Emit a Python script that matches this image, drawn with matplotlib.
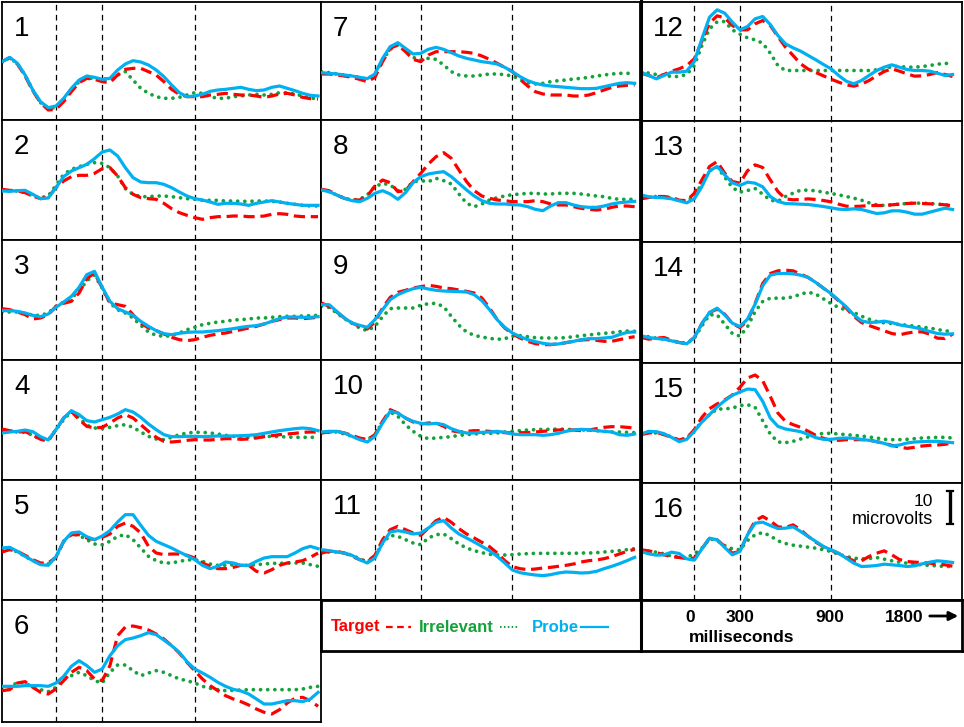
import matplotlib.pyplot as plt
import numpy as np
from matplotlib.lines import Line2D
from matplotlib.patches import FancyArrowPatch

plt.rcParams['font.family'] = ['Liberation Sans', 'DejaVu Sans']

# Zeitachse in ms, alle 50 ms ein Wert
times = np.arange(-350, 1701, 50)

# Amplituden in Mikrovolt (positiv = oben), je Panel: Target, Irrelevant, Probe
target_01 = [-0.2, 1.0, -0.9, -4.5, -9.0, -12.5, -14.7, -14.5, -12.2, -9.2, -6.5, -5.2, -5.5, -6.2, -6.5, -4.2, -2.5, -2.2, -2.2, -3.2, -4.2, -6.2, -8.5, -10.0, -10.7, -10.7, -10.7, -10.2, -10.0, -9.7, -10.0, -10.2, -10.2, -10.5, -10.9, -10.5, -9.9, -9.7, -10.2, -10.9, -11.3, -11.4]
irrelevant_01 = [-0.4, 1.0, -0.8, -4.3, -8.8, -12.5, -14.3, -13.9, -11.7, -8.7, -6.2, -5.2, -5.2, -5.5, -5.2, -4.2, -3.2, -5.7, -8.2, -9.7, -10.7, -11.2, -11.2, -10.9, -10.2, -9.5, -9.7, -10.7, -11.2, -11.2, -10.7, -10.5, -10.2, -10.0, -10.2, -10.0, -9.5, -9.5, -9.9, -10.5, -11.2, -11.2]
probe_01 = [-0.2, 1.1, -0.7, -4.2, -8.7, -12.2, -14.0, -13.5, -11.2, -8.2, -5.7, -4.5, -4.9, -5.5, -5.2, -2.7, -0.9, 0.1, -0.3, -1.2, -2.7, -4.7, -7.2, -9.5, -10.7, -10.5, -10.0, -9.1, -8.7, -8.5, -8.2, -7.9, -8.5, -8.9, -8.7, -7.9, -7.5, -8.2, -8.9, -9.7, -10.3, -10.5]

target_02 = [-2.8, -3.1, -3.3, -3.8, -4.8, -5.6, -5.1, -2.3, -0.3, 1.0, 1.4, 1.4, 2.0, 3.4, 3.7, 1.2, -2.3, -4.3, -5.3, -5.6, -5.8, -7.0, -8.6, -9.8, -10.6, -11.3, -11.8, -11.3, -11.0, -11.0, -10.8, -10.8, -11.0, -11.0, -10.8, -10.3, -10.1, -10.3, -10.8, -11.0, -11.0, -11.0]
irrelevant_02 = [-3.0, -3.3, -3.3, -3.8, -4.8, -5.3, -4.8, -1.6, 1.7, 3.2, 4.0, 4.7, 5.2, 5.0, 3.7, 1.2, -2.6, -4.3, -5.0, -5.0, -4.8, -4.8, -5.0, -5.3, -5.6, -5.8, -6.1, -6.1, -6.1, -6.3, -6.3, -6.4, -6.4, -6.3, -6.3, -6.4, -6.6, -7.0, -7.3, -7.6, -7.8, -7.8]
probe_02 = [-3.3, -3.4, -3.2, -3.1, -4.3, -5.6, -5.4, -2.3, 1.0, 2.7, 3.7, 4.7, 6.4, 8.4, 9.0, 7.2, 3.7, 0.7, -0.6, -0.8, -0.8, -1.3, -2.3, -3.6, -4.8, -5.6, -6.0, -6.6, -7.3, -7.0, -7.0, -7.2, -7.6, -7.0, -6.6, -6.2, -6.6, -7.0, -7.3, -7.6, -7.6, -7.6]

target_03 = [-2.6, -2.9, -3.6, -4.4, -5.7, -5.4, -4.4, -1.9, -1.0, -0.4, 2.1, 6.4, 8.1, 3.6, -0.9, -1.4, -1.9, -4.4, -6.9, -8.4, -9.2, -10.2, -11.2, -11.9, -12.2, -11.9, -11.2, -10.6, -10.2, -9.9, -9.4, -8.9, -8.4, -7.9, -7.2, -6.4, -5.9, -5.4, -5.4, -5.6, -5.4, -5.2]
irrelevant_03 = [-3.6, -3.6, -3.6, -4.0, -4.6, -4.6, -3.9, -1.9, -0.6, 0.6, 2.6, 5.8, 7.4, 3.6, -0.9, -2.9, -3.9, -5.4, -7.6, -9.6, -10.6, -10.9, -10.7, -9.9, -8.9, -8.2, -7.4, -7.0, -6.6, -6.4, -6.0, -5.9, -5.7, -5.4, -5.4, -5.2, -5.0, -4.9, -4.9, -4.8, -4.7, -4.6]
probe_03 = [-3.2, -3.2, -3.4, -3.9, -4.6, -5.0, -4.2, -2.2, -0.6, 1.1, 3.8, 7.6, 8.6, 3.8, -0.4, -2.6, -3.6, -4.6, -6.4, -7.9, -9.2, -10.1, -10.4, -10.0, -9.7, -9.6, -9.6, -9.4, -9.2, -8.9, -8.6, -8.2, -7.9, -7.7, -7.2, -6.4, -5.6, -5.1, -5.1, -5.2, -5.2, -5.0]

target_04 = [-2.7, -3.2, -3.6, -3.5, -4.5, -5.8, -6.3, -2.9, 0.6, 2.6, 0.1, -1.9, -2.4, -2.2, -0.9, 0.6, 1.6, 0.6, -1.4, -3.4, -5.2, -6.4, -6.6, -6.4, -6.1, -5.9, -6.0, -6.0, -5.8, -5.6, -5.6, -5.8, -5.7, -5.4, -5.0, -4.7, -4.4, -4.2, -4.0, -3.7, -3.6, -3.6]
irrelevant_04 = [-3.2, -3.4, -3.6, -3.7, -4.6, -5.8, -6.0, -2.9, 0.1, 2.6, 0.6, -1.6, -2.4, -2.6, -2.2, -1.7, -1.4, -2.2, -3.6, -4.9, -5.7, -5.9, -5.2, -4.4, -3.9, -3.7, -3.7, -3.9, -4.2, -4.6, -4.9, -5.1, -5.2, -5.2, -5.0, -4.9, -5.0, -5.1, -5.2, -5.2, -5.2, -5.2]
probe_04 = [-3.9, -3.6, -3.4, -3.0, -3.5, -5.0, -6.0, -2.9, 0.6, 2.8, 1.6, -0.2, -0.6, 0.1, 0.8, 1.8, 3.1, 2.4, 0.8, -1.2, -2.9, -4.4, -5.0, -5.0, -4.9, -4.9, -5.0, -4.9, -4.8, -4.8, -4.8, -4.7, -4.6, -4.4, -4.0, -3.6, -3.2, -2.9, -2.6, -2.4, -2.6, -3.2]

target_05 = [-3.6, -2.9, -3.4, -4.6, -5.9, -6.9, -6.9, -5.2, -0.4, 1.6, 1.6, 0.6, 0.1, 0.8, 1.8, 4.1, 5.1, 4.1, 2.1, -1.9, -3.9, -4.4, -4.2, -4.2, -4.6, -5.4, -6.9, -7.9, -8.6, -8.6, -8.2, -7.6, -7.6, -9.4, -9.9, -8.9, -7.6, -6.9, -6.6, -6.2, -5.2, -3.9]
irrelevant_05 = [-2.9, -2.6, -3.6, -4.9, -6.2, -7.2, -7.2, -5.2, -0.4, 1.8, 1.4, 0.1, -1.2, -1.4, -0.4, 1.1, 1.6, 0.1, -2.4, -4.9, -6.2, -6.9, -6.9, -6.4, -6.0, -5.9, -6.4, -7.2, -7.6, -7.6, -7.4, -7.6, -7.6, -7.4, -7.2, -7.0, -7.0, -6.9, -6.9, -6.9, -7.4, -7.9]
probe_05 = [-2.4, -2.2, -3.4, -4.9, -6.2, -7.4, -7.6, -5.0, -0.4, 2.1, 2.4, 1.0, 0.1, 1.2, 2.8, 5.4, 7.6, 7.6, 4.4, 1.4, -0.4, -1.4, -2.4, -3.6, -4.7, -5.9, -7.6, -8.6, -7.9, -6.6, -6.9, -7.6, -7.6, -6.4, -5.4, -5.0, -5.0, -5.0, -3.9, -2.6, -1.9, -2.6]

target_06 = [-8.9, -8.6, -6.6, -6.2, -7.9, -9.4, -9.9, -8.4, -5.9, -3.4, -1.9, -2.9, -5.4, -5.9, -1.4, 7.6, 10.2, 10.5, 10.0, 9.3, 8.1, 6.6, 4.6, 2.4, -0.4, -2.9, -5.4, -7.4, -8.9, -10.4, -11.4, -12.2, -13.2, -14.4, -15.4, -15.9, -14.6, -12.6, -11.2, -10.9, -11.9, -13.6]
irrelevant_06 = [-8.6, -7.9, -6.4, -6.6, -7.9, -8.6, -9.2, -7.9, -5.4, -4.4, -3.4, -4.4, -5.9, -6.6, -3.4, -1.2, -1.2, -2.9, -4.4, -3.6, -2.9, -3.4, -4.4, -5.4, -5.9, -6.6, -7.6, -8.2, -8.6, -8.9, -8.8, -8.7, -8.6, -8.6, -8.6, -8.6, -8.6, -8.6, -8.6, -8.4, -7.9, -7.6]
probe_06 = [-7.6, -7.6, -7.6, -7.4, -7.4, -7.4, -7.6, -6.6, -4.6, -1.6, 0.1, -1.4, -3.4, -2.4, 1.6, 4.6, 6.4, 6.9, 7.6, 8.5, 7.9, 6.3, 4.6, 2.6, -0.2, -2.4, -3.6, -4.9, -6.4, -7.6, -8.5, -9.0, -9.9, -11.4, -12.9, -12.9, -12.4, -11.9, -11.9, -12.2, -11.4, -9.4]

target_07 = [-3.9, -3.9, -4.2, -4.5, -4.9, -5.5, -6.2, -4.9, -0.2, 3.8, 4.8, 2.8, 0.5, -0.2, 1.8, 2.8, 2.8, 2.8, 2.8, 2.6, 2.3, 1.5, 0.5, -0.7, -1.9, -3.2, -5.5, -7.5, -9.2, -9.9, -10.2, -10.2, -10.2, -10.5, -10.5, -10.2, -9.5, -8.7, -7.9, -7.5, -7.3, -7.2]
irrelevant_07 = [-3.2, -3.5, -3.9, -4.2, -4.5, -4.9, -5.5, -3.9, 0.3, 3.5, 4.8, 3.3, 1.1, 0.3, 0.8, 0.5, -1.2, -3.2, -4.2, -4.5, -4.5, -4.2, -3.9, -3.9, -4.1, -4.5, -5.5, -6.5, -6.9, -6.7, -6.2, -5.9, -5.7, -5.4, -5.2, -4.9, -4.5, -4.2, -3.9, -3.7, -3.7, -3.7]
probe_07 = [-3.5, -3.7, -3.9, -4.2, -4.5, -4.9, -5.3, -3.9, 0.8, 4.3, 5.5, 3.8, 2.1, 2.3, 3.5, 4.1, 3.5, 2.5, 1.5, 0.8, 0.3, -0.2, -0.5, -0.9, -1.9, -3.2, -4.7, -5.9, -6.7, -7.2, -7.5, -7.7, -7.9, -8.1, -8.3, -8.3, -8.2, -7.7, -7.2, -6.7, -6.5, -6.7]

target_08 = [-2.8, -3.2, -4.5, -5.5, -6.0, -6.0, -4.8, -1.8, 0.0, -0.8, -3.5, -3.2, -0.5, 2.0, 4.8, 7.0, 8.2, 6.5, 3.0, -0.5, -3.2, -4.8, -5.5, -6.0, -6.2, -6.5, -6.5, -6.5, -6.2, -6.5, -7.2, -7.5, -7.5, -8.0, -8.5, -8.8, -9.0, -8.8, -8.2, -7.8, -7.8, -8.0]
irrelevant_08 = [-3.0, -3.5, -4.5, -5.5, -6.0, -5.8, -4.5, -2.0, -1.0, -1.5, -3.2, -2.8, -0.5, -0.2, -0.5, 0.5, -0.2, -1.2, -4.2, -7.0, -8.0, -7.2, -6.0, -5.3, -4.8, -4.4, -4.2, -4.0, -4.0, -4.2, -4.2, -4.0, -4.0, -4.0, -4.2, -4.5, -4.8, -5.0, -5.5, -5.8, -5.8, -5.8]
probe_08 = [-3.0, -3.5, -4.5, -5.5, -6.2, -6.5, -5.5, -4.0, -3.2, -4.2, -5.8, -3.8, -0.8, 1.0, 1.8, 2.2, 2.5, 1.0, -1.0, -3.0, -4.8, -6.2, -7.0, -7.2, -7.2, -7.4, -7.5, -8.0, -8.8, -9.2, -7.8, -6.8, -6.8, -7.5, -8.0, -8.2, -8.2, -7.8, -7.2, -6.8, -6.6, -6.4]

target_09 = [-0.9, -1.9, -3.6, -5.4, -6.9, -7.9, -8.7, -6.6, -2.4, 0.8, 2.3, 2.9, 3.6, 4.0, 4.4, 4.1, 3.6, 3.4, 3.0, 2.6, 2.1, 0.6, -2.4, -5.9, -8.4, -10.2, -11.4, -12.4, -13.1, -13.4, -13.4, -13.2, -12.8, -12.4, -12.0, -11.9, -12.1, -12.4, -12.4, -11.9, -11.4, -11.0]
irrelevant_09 = [-1.9, -2.2, -3.9, -5.6, -7.0, -8.4, -9.2, -7.9, -5.0, -2.6, -2.4, -2.4, -2.4, -1.6, -1.1, -1.0, -2.0, -4.9, -7.6, -9.6, -10.6, -11.1, -11.5, -11.8, -11.6, -10.8, -10.7, -11.0, -11.3, -11.4, -11.4, -11.4, -11.3, -11.0, -10.7, -10.5, -10.2, -10.0, -9.8, -9.5, -9.3, -9.4]
probe_09 = [-1.4, -1.4, -3.4, -5.4, -6.9, -7.6, -8.2, -5.9, -2.9, 0.1, 1.6, 2.6, 3.4, 3.8, 3.3, 2.9, 2.7, 2.6, 2.5, 2.4, 1.6, -0.2, -2.9, -5.9, -8.2, -9.9, -11.0, -11.9, -12.5, -13.0, -13.3, -13.2, -12.8, -12.4, -11.9, -11.6, -11.6, -11.4, -11.2, -10.4, -9.7, -9.6]

target_10 = [-3.9, -3.6, -3.4, -3.9, -4.6, -5.4, -5.9, -4.4, -0.4, 3.1, 2.1, 0.6, -0.6, -1.2, -0.9, -0.9, -1.9, -3.2, -3.6, -3.4, -3.2, -3.2, -3.4, -3.6, -3.8, -3.9, -3.8, -3.8, -3.6, -3.4, -3.2, -3.0, -2.9, -3.0, -3.2, -3.0, -2.6, -2.2, -2.0, -2.0, -2.2, -2.4]
irrelevant_10 = [-3.9, -3.6, -3.6, -4.2, -4.9, -5.6, -5.9, -4.4, -0.6, 2.4, 1.1, -1.4, -3.4, -4.9, -5.6, -5.4, -5.2, -5.0, -4.6, -4.4, -4.2, -4.0, -4.0, -3.9, -3.6, -3.4, -3.2, -3.0, -2.9, -2.8, -2.8, -2.7, -2.8, -2.9, -3.0, -3.0, -3.2, -3.4, -3.6, -3.6, -3.7, -3.8]
probe_10 = [-3.6, -3.4, -3.4, -3.9, -4.9, -5.9, -6.6, -4.9, -0.9, 2.6, 2.1, 0.6, -0.4, -1.0, -1.2, -1.0, -1.4, -2.6, -3.4, -3.9, -3.9, -3.7, -3.6, -3.4, -3.7, -4.2, -4.4, -4.4, -4.4, -4.6, -4.4, -4.0, -3.4, -3.0, -2.8, -2.9, -3.2, -3.4, -3.6, -4.4, -4.6, -4.2]

target_11 = [-3.9, -3.4, -3.4, -3.9, -4.9, -5.9, -6.4, -4.6, 0.1, 3.1, 4.1, 3.1, 2.1, 1.4, 3.6, 5.8, 6.8, 5.3, 3.4, 1.8, 0.6, -0.7, -2.0, -3.9, -6.2, -8.0, -8.6, -8.9, -8.7, -8.4, -8.2, -7.9, -7.6, -7.2, -6.6, -6.2, -6.0, -5.6, -5.0, -4.2, -3.4, -2.8]
irrelevant_11 = [-3.9, -3.6, -3.6, -3.9, -4.6, -5.6, -6.6, -4.9, -0.9, 1.4, 1.1, 0.1, -0.9, -1.4, 0.6, 1.6, 1.8, 0.4, -1.2, -2.4, -3.2, -3.8, -4.3, -4.5, -4.5, -4.4, -4.2, -4.1, -4.0, -4.0, -4.0, -4.0, -4.0, -4.0, -3.9, -3.9, -3.8, -3.6, -3.4, -3.2, -2.9, -2.6]
probe_11 = [-2.9, -3.2, -3.6, -3.9, -4.6, -5.9, -6.9, -5.4, -0.9, 2.4, 2.8, 2.4, 1.8, 2.1, 3.6, 5.3, 5.8, 3.6, 1.8, 0.6, -0.6, -1.9, -3.2, -4.9, -6.9, -9.0, -9.8, -10.2, -10.5, -10.7, -10.4, -9.9, -9.6, -9.7, -9.9, -9.8, -9.4, -8.6, -7.9, -7.1, -6.2, -5.2]

target_12 = [-3.5, -4.2, -4.9, -3.9, -2.9, -2.2, -1.2, 0.8, 6.1, 11.5, 13.7, 13.1, 10.8, 9.5, 9.5, 11.3, 12.3, 10.8, 7.5, 4.3, 1.8, -0.7, -2.3, -3.3, -4.3, -5.3, -6.2, -7.0, -7.4, -6.8, -5.7, -4.3, -3.0, -2.2, -2.9, -3.7, -4.4, -4.3, -3.9, -3.3, -3.9, -4.5]
irrelevant_12 = [-2.9, -3.5, -3.9, -4.2, -4.5, -4.5, -3.9, -1.2, 4.8, 9.8, 11.9, 12.0, 9.5, 8.2, 7.1, 6.5, 5.5, 2.5, -1.2, -2.7, -2.7, -2.7, -2.7, -2.7, -2.7, -2.7, -2.7, -2.7, -2.7, -2.7, -2.7, -2.5, -2.2, -1.5, -1.5, -1.7, -1.7, -1.5, -1.2, -0.8, -0.6, -0.5]
probe_12 = [-3.2, -4.2, -5.2, -4.2, -3.2, -3.2, -2.9, 0.0, 6.8, 13.3, 15.5, 14.5, 11.8, 9.5, 10.5, 12.8, 13.5, 11.1, 7.8, 5.3, 4.1, 3.1, 1.8, 0.5, -0.9, -2.2, -4.2, -5.9, -6.7, -5.7, -4.2, -2.7, -1.7, -1.0, -1.7, -2.4, -2.7, -2.7, -2.9, -3.5, -4.2, -3.9]

target_13 = [-5.2, -4.8, -4.5, -4.5, -4.8, -5.6, -5.8, -3.5, 0.5, 4.5, 6.0, 2.5, 0.0, -0.5, 3.2, 5.0, 4.2, 0.5, -3.0, -5.2, -5.5, -5.4, -5.2, -5.4, -5.7, -6.1, -6.8, -7.4, -7.5, -7.4, -7.2, -7.2, -7.2, -7.0, -6.8, -6.6, -6.5, -6.6, -6.7, -6.8, -7.0, -7.3]
irrelevant_13 = [-5.0, -4.7, -4.5, -4.7, -5.0, -5.6, -5.8, -4.5, -0.5, 3.2, 4.3, 1.3, -1.8, -3.2, -2.7, -2.1, -3.8, -5.6, -6.0, -4.5, -3.5, -2.6, -2.6, -2.8, -3.2, -3.6, -4.0, -4.5, -5.0, -5.6, -6.4, -7.0, -7.2, -7.0, -6.8, -6.6, -6.5, -6.5, -6.6, -6.8, -7.0, -7.2]
probe_13 = [-4.0, -4.6, -4.8, -4.9, -5.2, -5.8, -6.4, -5.2, -1.5, 3.2, 4.5, 2.0, -0.4, -1.2, -0.2, -0.5, -1.6, -4.5, -6.0, -6.6, -6.7, -6.8, -6.9, -7.2, -7.5, -7.9, -8.3, -8.4, -8.2, -8.4, -9.0, -9.6, -9.4, -8.8, -8.8, -9.2, -9.8, -9.8, -9.2, -8.6, -8.0, -8.4]

target_14 = [-10.5, -11.0, -10.7, -10.5, -11.3, -12.0, -12.3, -10.5, -6.3, -3.0, -2.0, -3.5, -6.3, -7.5, -5.5, -0.3, 5.7, 8.7, 9.5, 9.7, 9.5, 8.5, 7.5, 6.0, 4.3, 2.5, 0.5, -1.7, -4.1, -6.0, -6.9, -7.7, -8.5, -9.3, -9.7, -9.2, -8.8, -8.8, -9.5, -10.7, -10.8, -9.5]
irrelevant_14 = [-9.7, -10.3, -10.7, -11.0, -11.5, -12.0, -12.3, -10.7, -7.0, -3.7, -3.7, -6.5, -9.3, -10.1, -7.3, -2.7, 0.3, 1.3, 1.3, 1.3, 1.7, 2.5, 3.1, 2.5, 1.1, -0.3, -1.5, -2.3, -3.0, -4.1, -5.0, -5.7, -6.1, -6.3, -6.6, -6.8, -7.1, -7.4, -7.7, -8.1, -8.5, -8.7]
probe_14 = [-10.0, -10.5, -10.8, -11.0, -11.5, -12.0, -12.4, -10.5, -6.3, -3.0, -1.7, -3.7, -6.2, -7.2, -5.0, -0.5, 5.0, 8.2, 8.7, 8.7, 8.6, 8.2, 7.5, 6.0, 4.3, 2.7, 0.7, -1.3, -3.7, -5.5, -6.0, -5.9, -5.6, -6.0, -6.7, -7.1, -7.5, -8.0, -8.7, -9.3, -9.5, -9.4]

target_15 = [-3.5, -3.0, -2.8, -3.5, -4.3, -5.1, -4.5, -2.0, 1.7, 4.3, 5.7, 6.9, 8.4, 10.7, 13.5, 14.4, 12.7, 8.0, 3.0, 0.5, -0.5, -1.3, -2.5, -3.7, -4.6, -5.2, -5.2, -5.0, -5.0, -5.0, -5.1, -5.6, -6.1, -6.7, -7.2, -7.6, -7.3, -6.9, -6.7, -6.6, -6.4, -5.9]
irrelevant_15 = [-3.0, -2.8, -3.0, -3.3, -4.2, -5.1, -4.6, -2.3, 0.5, 2.5, 4.2, 4.2, 4.5, 5.2, 5.5, 4.7, 0.7, -3.3, -5.7, -5.9, -5.5, -4.8, -4.1, -3.5, -3.1, -3.1, -3.3, -3.5, -3.7, -3.9, -4.2, -4.5, -4.9, -5.0, -5.0, -4.9, -4.7, -4.5, -4.4, -4.3, -4.3, -4.5]
probe_15 = [-3.3, -2.5, -2.6, -3.2, -4.3, -5.6, -4.9, -2.5, 0.3, 2.5, 4.8, 6.7, 8.3, 9.3, 10.2, 10.0, 6.5, 1.5, -1.0, -1.8, -2.2, -2.6, -3.4, -4.4, -4.9, -4.9, -4.6, -4.5, -4.6, -4.9, -5.2, -5.6, -6.1, -6.9, -6.6, -6.0, -5.7, -5.6, -5.5, -5.5, -5.7, -5.9]

target_16 = [-2.5, -2.8, -3.3, -4.0, -4.5, -4.8, -5.1, -5.0, -2.2, 1.0, 0.5, -1.5, -3.5, -3.0, 2.0, 6.2, 7.5, 6.2, 4.4, 4.2, 5.0, 3.5, 1.5, -0.2, -1.6, -2.6, -3.6, -4.8, -5.8, -5.8, -4.5, -3.5, -2.8, -4.0, -5.4, -6.0, -6.2, -6.3, -6.5, -6.8, -7.0, -7.4]
irrelevant_16 = [-2.8, -3.0, -3.2, -3.7, -4.4, -4.7, -4.8, -3.7, -2.0, 0.8, 0.3, -1.2, -2.2, -2.5, 0.3, 2.0, 2.7, 1.7, 0.2, -0.6, -1.1, -1.4, -1.7, -2.0, -2.5, -3.0, -3.8, -4.5, -5.0, -5.2, -5.1, -4.8, -5.3, -5.8, -6.2, -6.5, -6.8, -7.0, -7.2, -7.3, -7.5, -7.5]
probe_16 = [-3.0, -3.7, -4.1, -4.0, -3.2, -3.6, -5.2, -5.6, -2.2, 1.0, 0.5, -1.8, -4.0, -3.0, 2.0, 5.5, 5.8, 4.8, 3.9, 4.0, 4.4, 3.0, 1.5, 0.0, -1.5, -2.5, -3.5, -5.0, -6.5, -7.5, -7.4, -7.2, -6.8, -7.0, -7.2, -7.5, -7.3, -6.7, -6.2, -5.8, -6.0, -6.3]

marker_times = [0, 300, 900]
axis_labels = ['0', '300', '900', '1800']
scale_uv = 10

targets = [target_01, target_02, target_03, target_04, target_05, target_06, target_07, target_08,
           target_09, target_10, target_11, target_12, target_13, target_14, target_15, target_16]
irrelevants = [irrelevant_01, irrelevant_02, irrelevant_03, irrelevant_04, irrelevant_05, irrelevant_06,
               irrelevant_07, irrelevant_08, irrelevant_09, irrelevant_10, irrelevant_11, irrelevant_12,
               irrelevant_13, irrelevant_14, irrelevant_15, irrelevant_16]
probes = [probe_01, probe_02, probe_03, probe_04, probe_05, probe_06, probe_07, probe_08,
          probe_09, probe_10, probe_11, probe_12, probe_13, probe_14, probe_15, probe_16]

RED = '#FF0000'
GREEN = '#14A23A'
BLUE = '#00B0F0'

W, H = 964, 727
PX_PER_UV = 3.333

fig = plt.figure(figsize=(W / 100, H / 100), dpi=100)


def add_px_axes(l, t, r, b):
    return fig.add_axes([l / W, 1 - b / H, (r - l) / W, (b - t) / H])


# Spalten (Pixel) und Zeitbereich je Spalte
cols = [((2, 321), (-350, 1719)), ((321, 640), (-353, 1735)), ((641, 962), (-351, 1762))]
rows_a = [(2, 120), (120, 240), (240, 360), (360, 480), (480, 600), (600, 722)]
rows_c = [(2, 121), (121, 242), (242, 363), (363, 483), (483, 600)]

layout = []
for i in range(6):
    layout.append((cols[0], rows_a[i]))
for i in range(5):
    layout.append((cols[1], rows_a[i]))
for i in range(5):
    layout.append((cols[2], rows_c[i]))

axes = []
for k, (((l, r), xl), (t, b)) in enumerate(layout):
    ax = add_px_axes(l, t, r, b)
    half = (b - t) / 2 / PX_PER_UV
    ax.set_xlim(*xl)
    ax.set_ylim(-half, half)
    for mt in marker_times:
        ax.axvline(mt, color='black', lw=0.9, ls=(0, (4.5, 3.5)), zorder=1)
    ax.plot(times, targets[k], color=RED, lw=2.3, dashes=(3.5, 1.8), zorder=3)
    ax.plot(times, irrelevants[k], color=GREEN, lw=2.7, dashes=(0.01, 1.9),
            dash_capstyle='round', zorder=2)
    ax.plot(times, probes[k], color=BLUE, lw=2.3, zorder=4)
    ax.set_xticks([])
    ax.set_yticks([])
    for s in ax.spines.values():
        s.set_linewidth(1.3)
    fig.text((l + 12) / W, 1 - (t + 34) / H, str(k + 1), fontsize=20,
             ha='left', va='baseline')
    axes.append(ax)

# Massstab in Panel 16
ax16 = axes[15]
bx = 1683
ax16.plot([bx, bx], [5.3, 5.3 + scale_uv], color='black', lw=2.4, solid_capstyle='butt', zorder=5)
ax16.plot([bx - 22, bx + 22], [5.3, 5.3], color='black', lw=1.6, zorder=5)
ax16.plot([bx - 22, bx + 22], [5.3 + scale_uv, 5.3 + scale_uv], color='black', lw=1.6, zorder=5)
fig.text(933 / W, 1 - 502 / H, str(scale_uv), fontsize=12.5, ha='right', va='center')
fig.text(933 / W, 1 - 520 / H, 'microvolts', fontsize=13, ha='right', va='center')

# Legendenkasten
leg = add_px_axes(321, 600, 641, 651)
leg.set_xlim(321, 641)
leg.set_ylim(651, 600)
leg.set_xticks([])
leg.set_yticks([])
for s in leg.spines.values():
    s.set_linewidth(2.0)
yl = 627
leg.text(331, yl, 'Target', color=RED, fontsize=12, fontweight='bold', ha='left', va='center')
leg.plot([386, 411], [yl, yl], color=RED, lw=1.6, dashes=(3, 2))
leg.text(419, yl, 'Irrelevant', color=GREEN, fontsize=12, fontweight='bold', ha='left', va='center')
leg.plot([500, 518], [yl, yl], color=GREEN, lw=1.4, dashes=(0.8, 1.2))
leg.text(532, yl, 'Probe', color=BLUE, fontsize=12, fontweight='bold', ha='left', va='center')
leg.plot([581, 608], [yl, yl], color=BLUE, lw=1.6)

# Zeitachsenkasten
tax = add_px_axes(641, 600, 962, 651)
tax.set_xlim(641, 962)
tax.set_ylim(651, 600)
tax.set_xticks([])
tax.set_yticks([])
for s in tax.spines.values():
    s.set_linewidth(2.0)
for lab, xc in zip(axis_labels, [690, 740, 830, 904]):
    tax.text(xc, 617, lab, fontsize=12.5, fontweight='bold', ha='center', va='center')
tax.text(742, 638, 'milliseconds', fontsize=12.5, fontweight='bold', ha='center', va='center')
tax.add_patch(FancyArrowPatch((927, 616), (961, 616), arrowstyle='-|>', mutation_scale=13,
                              lw=2.0, color='black'))

# dickere Trennlinie vor der dritten Spalte
fig.add_artist(Line2D([641 / W, 641 / W], [1 - 651 / H, 1 - 1 / H], color='black', lw=2.2))

fig.savefig('out.png', dpi=100)
